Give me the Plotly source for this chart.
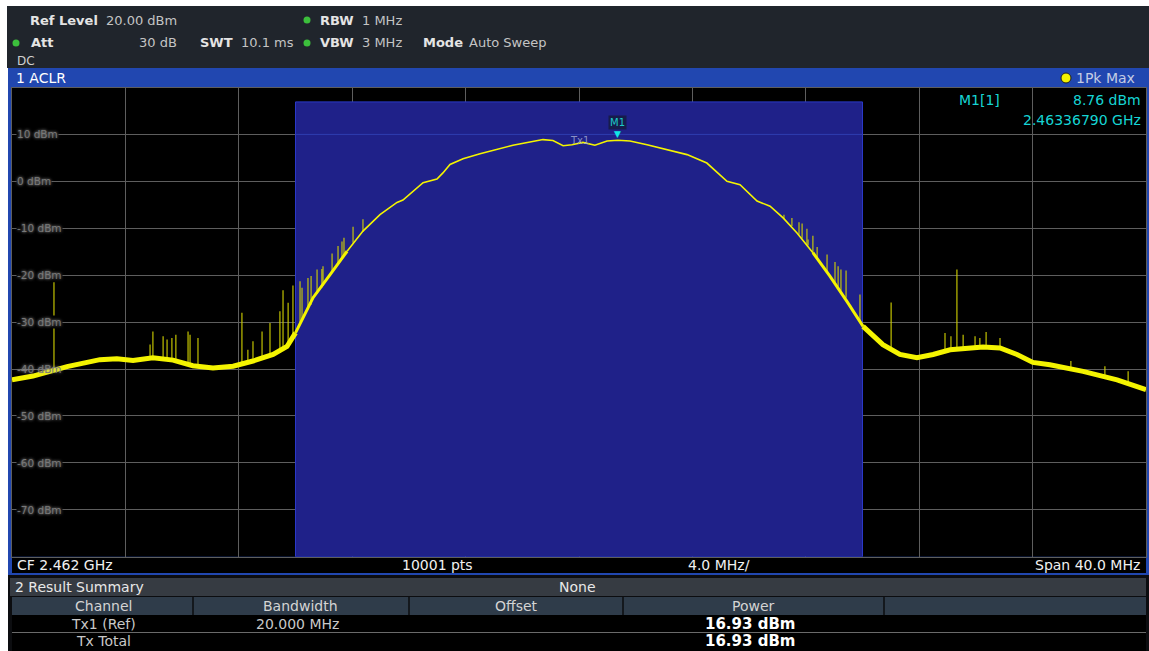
import plotly.graph_objects as go

W, H = 1149, 651

# ---------------- measurement settings ----------------
cf_mhz = 2462.0
span_mhz = 40.0
channel_bw_mhz = 20.0
channel_power_dbm = 16.93
ref_level_dbm = 20.0
bottom_level_dbm = -80.0
marker_freq_ghz = 2.46336790
marker_level_dbm = 8.76

y_tick_vals = [10, 0, -10, -20, -30, -40, -50, -60, -70]

# ---------------- spectrum trace (offset from CF in MHz, level in dBm) ----------------
trace_offset_mhz = [
    -20.00, -19.26, -18.06, -16.90, -16.30, -15.73, -15.03, -14.32, -13.62, -12.91,
    -12.20, -11.50, -10.79, -10.30, -10.00,
    -9.38, -8.78, -8.18, -7.62, -7.02, -6.42, -6.21, -5.86, -5.50, -5.01,
    -4.80, -4.55, -4.09, -3.49, -2.89, -2.33, -1.73, -1.27, -0.92, -0.56,
    -0.25, 0.14, 0.56, 0.99, 1.37, 1.80, 2.40, 3.10, 3.81, 4.51,
    5.22, 5.68, 6.28, 6.74, 7.20, 7.69, 8.25, 8.85, 9.45, 10.02,
    10.72, 11.32, 11.92, 12.49, 13.09, 14.25, 14.85, 15.45, 16.01, 16.61,
    17.78, 18.98, 20.00,
]
trace_level_dbm = [
    -42.3, -41.5, -39.5, -38.0, -37.8, -38.2, -37.6, -38.1, -39.3, -39.8,
    -39.4, -38.3, -36.9, -35.2, -32.3,
    -24.8, -19.9, -14.9, -10.6, -7.1, -4.5, -4.0, -2.1, -0.3, 0.5,
    1.8, 3.6, 4.8, 5.9, 6.9, 7.7, 8.4, 8.9, 8.7, 7.6,
    7.8, 8.3, 7.7, 8.6, 8.76, 8.6, 7.8, 6.8, 5.7, 3.9,
    0.0, -0.7, -4.2, -5.3, -7.8, -11.0, -15.2, -20.2, -25.6, -30.9,
    -34.8, -36.9, -37.6, -36.9, -35.9, -35.3, -35.5, -36.9, -38.6, -39.1,
    -40.5, -42.3, -44.4,
]

# ---------------- spurious lines (offset MHz, peak dBm, foot dBm) ----------------
spur_offset_mhz = [
    -18.52, -15.13, -15.03, -14.67, -14.53, -14.36, -14.22, -13.79, -13.72, -13.44,
    -11.89, -11.68, -11.50, -11.18, -10.90, -10.55, -10.44, -10.26, -10.09,
    -9.84, -9.77, -9.56, -9.45, -9.24, -9.07, -9.03, -8.71, -8.50, -8.36,
    -8.29, -7.97, -7.62,
    7.23, 7.51, 7.76, 7.87, 8.04, 8.08, 8.25, 8.40, 8.75, 9.03,
    9.14, 9.24, 9.42, 9.59, 9.91, 11.01, 12.91, 13.12, 13.33, 13.55,
    13.97, 14.14, 14.36, 14.85, 17.35, 18.55, 19.37,
]
spur_peak_dbm = [
    -21.5, -34.8, -32.0, -33.0, -33.7, -33.4, -32.7, -32.0, -32.7, -33.4,
    -28.0, -35.9, -34.1, -32.0, -30.2, -27.7, -23.2, -25.9, -22.2,
    -21.3, -22.7, -20.6, -20.2, -18.8, -18.7, -18.1, -15.4, -13.8, -12.8,
    -12.0, -9.7, -8.1,
    -7.1, -7.8, -8.7, -9.0, -10.1, -12.4, -11.6, -14.0, -15.6, -17.2,
    -18.1, -18.8, -19.0, -26.5, -24.1, -25.8, -32.3, -33.0, -18.8, -32.7,
    -33.0, -33.4, -32.1, -33.4, -38.3, -39.4, -40.5,
]
spur_base_dbm = [
    -40.5, -37.8, -37.8, -37.9, -37.9, -38.0, -38.2, -38.8, -38.9, -39.2,
    -39.0, -38.7, -38.3, -37.9, -37.3, -36.5, -36.1, -35.0, -33.5,
    -30.0, -29.5, -27.3, -26.3, -24.0, -22.6, -22.3, -19.3, -17.5, -16.4,
    -15.8, -13.1, -10.8,
    -8.0, -9.5, -11.4, -12.2, -13.5, -13.7, -15.2, -16.3, -19.2, -21.5,
    -22.4, -23.3, -24.8, -27.0, -30.0, -35.5, -36.3, -35.9, -35.8, -35.6,
    -35.4, -35.3, -35.3, -35.5, -40.0, -41.6, -43.2,
]

# ---------------- colours ----------------
HEADER_BG = "#20252c"
FRAME_BLUE = "#2147b0"
CHANNEL_BLUE = "#1f2189"
TRACE_YELLOW = "#f4f400"
SPUR_YELLOW = "rgba(210,210,0,0.85)"
GRID = "#5e5e5e"
CYAN = "#16d4d4"
FONT = "DejaVu Sans"

PLOT_L, PLOT_R, PLOT_T, PLOT_B = 12, 1146, 87.5, 556.7


def px(x):
    return x / W


def py(y):
    return 1 - y / H


fig = go.Figure()

# spurious lines
sx, sy = [], []
for f, pk, bs in zip(spur_offset_mhz, spur_peak_dbm, spur_base_dbm):
    sx += [cf_mhz + f, cf_mhz + f, None]
    sy += [bs, pk, None]
fig.add_trace(go.Scatter(x=sx, y=sy, mode="lines",
                         line=dict(color=SPUR_YELLOW, width=1.3),
                         hoverinfo="skip", showlegend=False))

# main trace, drawn wider where the noise floor band is broad
segments = [(-20.0, -10.0, 5.0), (-10.0, -8.18, 3.0), (-8.18, 8.25, 1.6),
            (8.25, 10.02, 3.0), (10.02, 20.0, 5.0)]
for lo, hi, w in segments:
    xs = [cf_mhz + f for f in trace_offset_mhz if lo <= f <= hi]
    ys = [v for f, v in zip(trace_offset_mhz, trace_level_dbm) if lo <= f <= hi]
    fig.add_trace(go.Scatter(x=xs, y=ys, mode="lines",
                             line=dict(color=TRACE_YELLOW, width=w),
                             hoverinfo="skip", showlegend=False))

shapes = []
ann = []


def rect(x0, y0, x1, y1, color, **kw):
    shapes.append(dict(type="rect", xref="paper", yref="paper", x0=px(x0), x1=px(x1),
                       y0=py(y1), y1=py(y0), fillcolor=color, line_width=0,
                       layer="below", **kw))


# ---- instrument chrome ----
rect(7, 6, 1149, 68, HEADER_BG)
rect(8, 68, 1149, 575, FRAME_BLUE)
rect(PLOT_L, PLOT_T, PLOT_R, PLOT_B, "black")
rect(12, 557, 1146, 573, "black")
# result summary window
rect(8, 575, 1149, 651, "#0c0d10")
rect(10, 578, 1146, 596, "#363b42")
rect(12, 597, 1146, 615, "#2f3c4a")
rect(12, 615, 1146, 651, "black")
for cx in [193, 409, 623, 884]:
    shapes.append(dict(type="line", xref="paper", yref="paper", x0=px(cx), x1=px(cx),
                       y0=py(615), y1=py(597), line=dict(color="#14181d", width=2)))
shapes.append(dict(type="line", xref="paper", yref="paper", x0=px(12), x1=px(1146),
                   y0=py(632.5), y1=py(632.5), line=dict(color="#6a6a6a", width=1)))

# status dots
for dx, dy in [(307, 20), (16, 43), (307, 43)]:
    shapes.append(dict(type="circle", xref="paper", yref="paper",
                       x0=px(dx - 3.5), x1=px(dx + 3.5), y0=py(dy + 3.5), y1=py(dy - 3.5),
                       fillcolor="#3cbf3c", line_width=0))
shapes.append(dict(type="circle", xref="paper", yref="paper",
                   x0=px(1061), x1=px(1071), y0=py(83), y1=py(73),
                   fillcolor="#f2f200", line=dict(color="#202020", width=1)))

# ---- channel (Tx1) bar, its top at the measured channel power ----
ch_lo = cf_mhz - channel_bw_mhz / 2
ch_hi = cf_mhz + channel_bw_mhz / 2
shapes.append(dict(type="rect", xref="x", yref="y", x0=ch_lo, x1=ch_hi,
                   y0=bottom_level_dbm, y1=channel_power_dbm,
                   fillcolor=CHANNEL_BLUE, line=dict(color="#2a38c8", width=1),
                   layer="between"))
shapes.append(dict(type="line", xref="x", yref="y", x0=ch_lo, x1=ch_hi, y0=10, y1=10,
                   line=dict(color="#2f3db0", width=1), layer="between"))


def text(x, y, s, size=13, color="#d8d8d8", anchor="left", bold=False, family=FONT):
    ann.append(dict(xref="paper", yref="paper", x=px(x), y=py(y), text=s,
                    showarrow=False, xanchor=anchor, yanchor="middle",
                    font=dict(family=family, size=size, color=color,
                              weight="bold" if bold else "normal")))


# header
text(28, 20, "Ref Level", bold=True, color="#e4e4e4")
text(104, 20, f"{ref_level_dbm:.2f} dBm", color="#c4c4c4")
text(318, 20, "RBW", bold=True, color="#e4e4e4")
text(360, 20, "1 MHz", color="#c4c4c4")
text(29, 43, "Att", bold=True, color="#e4e4e4")
text(179, 43, "30 dB", color="#c4c4c4", anchor="right")
text(198, 43, "SWT", bold=True, color="#e4e4e4")
text(239, 43, "10.1 ms", color="#c4c4c4")
text(318, 43, "VBW", bold=True, color="#e4e4e4")
text(360, 43, "3 MHz", color="#c4c4c4")
text(421, 43, "Mode", bold=True, color="#e4e4e4")
text(467, 43, "Auto Sweep", color="#c4c4c4")
text(15, 61, "DC", size=12, color="#d0d0d0")

# window title bar
text(14, 78, "1 ACLR", size=14, color="#ffffff")
text(1074, 78, "1Pk Max", size=14, color="#c4cce4")

# marker readout
text(957, 100, "M1[1]", size=14, color=CYAN)
text(1143, 100, f"{marker_level_dbm:.2f} dBm", size=14, color=CYAN, anchor="right")
text(1143, 120, f"{marker_freq_ghz:.8f} GHz", size=14, color=CYAN, anchor="right")

# status bar
text(15, 565, f"CF {cf_mhz / 1000:.3f} GHz", size=14, color="#f0f0f0")
text(437, 565, "10001 pts", size=14, color="#f0f0f0", anchor="center")
text(719, 565, f"{span_mhz / 10:.1f} MHz/", size=14, color="#f0f0f0", anchor="center")
text(1142, 565, f"Span {span_mhz:.1f} MHz", size=14, color="#f0f0f0", anchor="right")

# result summary
text(13, 587, "2 Result Summary", size=14, color="#e8e8e8")
text(577, 587, "None", size=14, color="#e8e8e8", anchor="center")
for cx, s in [(103, "Channel"), (300, "Bandwidth"), (516, "Offset"), (753, "Power")]:
    text(cx, 606, s, size=14, color="#d4d4d4", anchor="center")
text(103, 624, "Tx1 (Ref)", size=14, color="#c8c8c8", anchor="center")
text(297, 624, f"{channel_bw_mhz:.3f} MHz", size=14, color="#c8c8c8", anchor="center")
text(750, 624, f"{channel_power_dbm:.2f} dBm", size=15, color="#ffffff", anchor="center", bold=True)
text(103, 641, "Tx Total", size=14, color="#c8c8c8", anchor="center")
text(750, 641, f"{channel_power_dbm:.2f} dBm", size=15, color="#ffffff", anchor="center", bold=True)

# y level labels inside the diagram
for v in y_tick_vals:
    ann.append(dict(xref="paper", yref="y", x=px(16), y=v, text=f"{v} dBm",
                    showarrow=False, xanchor="left", yanchor="middle",
                    bgcolor="black" if v != -40 else "rgba(0,0,0,0)", borderpad=0,
                    font=dict(family=FONT, size=10.5, color="#787878",
                              shadow="0px 0px 3px #b4b4b4")))

# channel label and marker M1
ann.append(dict(xref="x", yref="y", x=cf_mhz + 0.03, y=8.6, text="Tx1", showarrow=False,
                font=dict(family=FONT, size=10, color="rgba(170,176,215,0.8)")))
mx = marker_freq_ghz * 1000
ann.append(dict(xref="x", yref="y", x=mx, y=marker_level_dbm, text="▼", showarrow=False,
                yanchor="bottom", yshift=-1,
                font=dict(family=FONT, size=9, color="#10e6e6")))
ann.append(dict(xref="x", yref="y", x=mx, y=marker_level_dbm, text="M1", showarrow=False,
                yanchor="bottom", yshift=10, bgcolor="#161c4c", borderpad=1,
                font=dict(family=FONT, size=10, color="#1ccaca")))

fig.update_layout(
    width=W, height=H,
    margin=dict(l=0, r=0, t=0, b=0),
    paper_bgcolor="white",
    plot_bgcolor="black",
    showlegend=False,
    shapes=shapes,
    annotations=ann,
    xaxis=dict(domain=[px(PLOT_L), px(PLOT_R)],
               range=[cf_mhz - span_mhz / 2, cf_mhz + span_mhz / 2],
               tick0=cf_mhz - span_mhz / 2, dtick=span_mhz / 10, showticklabels=False,
               ticks="", showgrid=True, gridcolor=GRID, gridwidth=1, zeroline=False,
               showline=True, linecolor=GRID, mirror=True, fixedrange=True),
    yaxis=dict(domain=[py(PLOT_B), py(PLOT_T)], range=[bottom_level_dbm, ref_level_dbm],
               tick0=0, dtick=10, showticklabels=False, ticks="",
               showgrid=True, gridcolor=GRID, gridwidth=1, zeroline=False,
               showline=True, linecolor=GRID, mirror=True, fixedrange=True),
)

fig.write_html("out.html")
